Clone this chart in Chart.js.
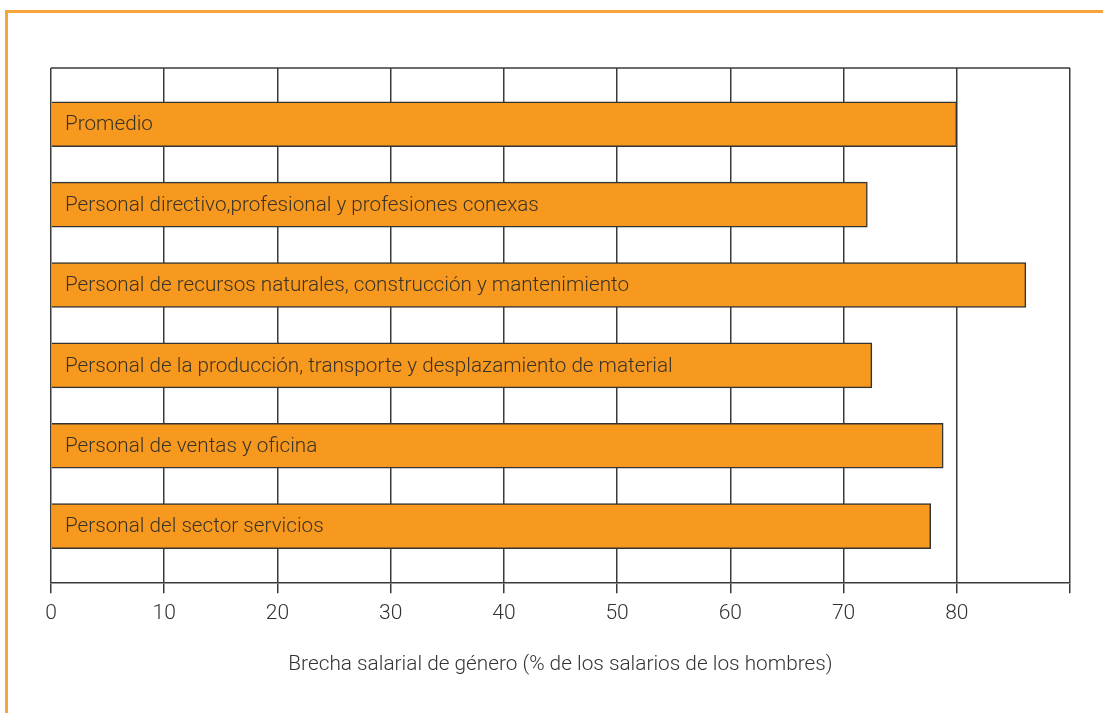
<!DOCTYPE html>
<html>
<head>
<meta charset="utf-8">
<script src="https://cdn.jsdelivr.net/npm/chart.js@4/dist/chart.umd.min.js"></script>
<style>
  html, body { margin: 0; padding: 0; background: #fff; }
  #wrap { position: relative; width: 1103px; height: 713px; }
  #frame { position: absolute; left: 5px; top: 10px; right: 0; bottom: 0;
           border-top: 3px solid #f9a43a; border-left: 3px solid #f9a43a; }
  canvas { position: absolute; left: 0; top: 0; }
</style>
</head>
<body>
<div id="wrap">
  <div id="frame"></div>
  <canvas id="chart" width="1103" height="713"></canvas>
</div>
<script>
const categories = [
    'Promedio',
    'Personal directivo,profesional y profesiones conexas',
    'Personal de recursos naturales, construcción y mantenimiento',
    'Personal de la producción, transporte y desplazamiento de material',
    'Personal de ventas y oficina',
    'Personal del sector servicios'
];
const values = [80, 72.1, 86.1, 72.5, 78.8, 77.7];
const xTicks = [0, 10, 20, 30, 40, 50, 60, 70, 80];
const xTitle = 'Brecha salarial de género (% de los salarios de los hombres)';

const lineColor = '#3a3a3a';
const fontFamily = 'Roboto, "Liberation Sans", sans-serif';

// labels written inside each bar
const barLabels = {
    id: 'barLabels',
    afterDatasetsDraw(chart) {
        const ctx = chart.ctx;
        const meta = chart.getDatasetMeta(0);
        ctx.save();
        ctx.font = '300 20.7px ' + fontFamily;
        ctx.fillStyle = '#3b3326';
        ctx.textBaseline = 'middle';
        meta.data.forEach((bar, i) => {
            ctx.fillText(categories[i], chart.chartArea.left + 14, bar.y + 1);
        });
        ctx.restore();
    }
};

// top edge of the plot box
const topBorder = {
    id: 'topBorder',
    beforeDatasetsDraw(chart) {
        const { ctx, chartArea } = chart;
        ctx.save();
        ctx.strokeStyle = lineColor;
        ctx.lineWidth = 1.5;
        ctx.beginPath();
        ctx.moveTo(chartArea.left, chartArea.top);
        ctx.lineTo(chartArea.right, chartArea.top);
        ctx.stroke();
        ctx.restore();
    }
};

const ctx = document.getElementById('chart').getContext('2d');
new Chart(ctx, {
    type: 'bar',
    data: {
        datasets: [{
            data: categories.map((c, i) => ({ x: values[i], y: i })),
            backgroundColor: '#f8991f',
            borderColor: '#333333',
            borderWidth: 1.5,
            barThickness: 45
        }]
    },
    options: {
        indexAxis: 'y',
        responsive: false,
        animation: false,
        layout: { padding: { left: 51, right: 33, top: 68, bottom: 35.5 } },
        plugins: { legend: { display: false }, tooltip: { enabled: false } },
        scales: {
            y: {
                type: 'linear',
                min: -0.7,
                max: 5.7,
                reverse: true,
                offset: false,
                display: false
            },
            x: {
                type: 'linear',
                min: 0,
                max: 90,
                afterBuildTicks: (axis) => {
                    axis.ticks = xTicks.concat([90]).map(v => ({ value: v }));
                },
                ticks: {
                    callback: (v) => xTicks.includes(v) ? String(v) : '',
                    color: '#333',
                    font: { family: fontFamily, size: 21, weight: '300' },
                    padding: 8,
                    maxRotation: 0
                },
                grid: {
                    color: lineColor,
                    lineWidth: 1.5,
                    tickLength: 11
                },
                border: { color: lineColor, width: 1.5 },
                title: {
                    display: true,
                    text: xTitle,
                    color: '#333',
                    font: { family: fontFamily, size: 20.8, weight: '300' },
                    padding: { top: 18, bottom: 0 }
                }
            }
        }
    },
    plugins: [barLabels, topBorder]
});
</script>
</body>
</html>
